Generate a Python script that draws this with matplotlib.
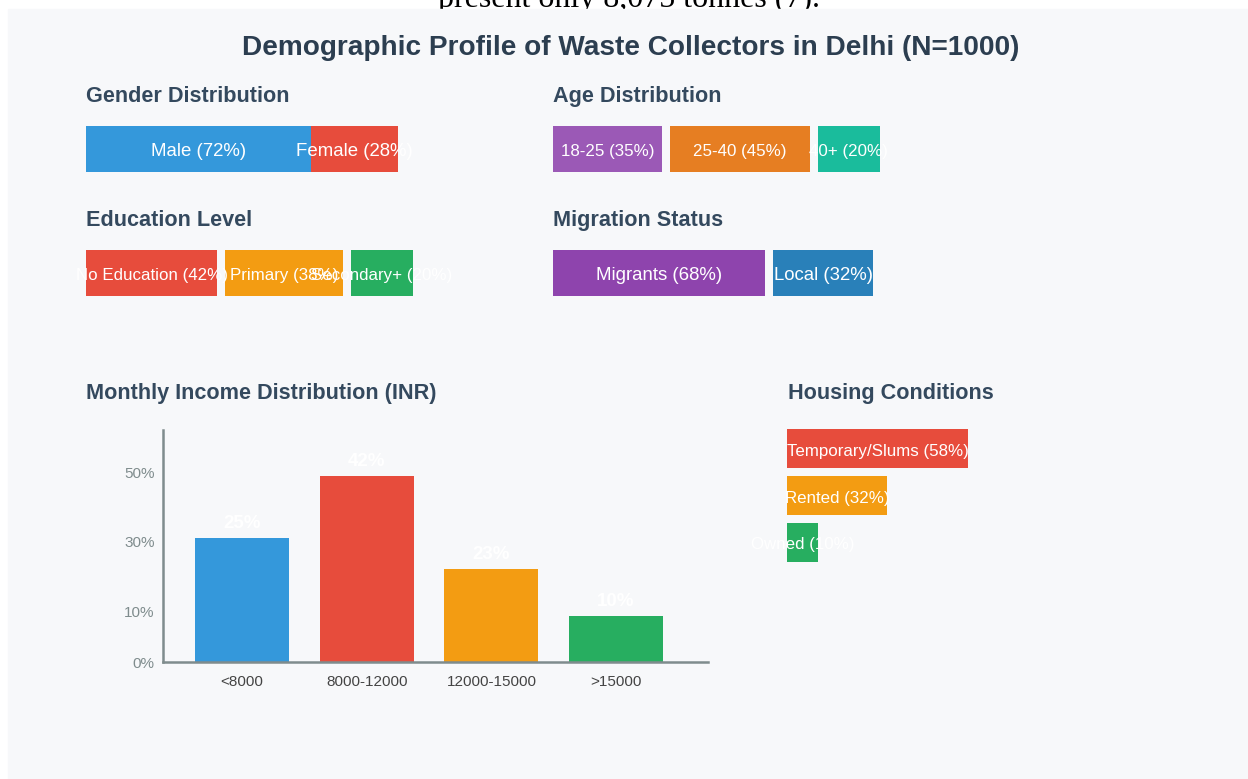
import matplotlib.pyplot as plt
from matplotlib.patches import Rectangle

plt.rcParams['font.family'] = ['Liberation Sans', 'DejaVu Sans']

# данные
gender_labels = ['Male', 'Female']
gender_vals = [72, 28]
gender_colors = ['#3498db', '#e74c3c']

age_labels = ['18-25', '25-40', '40+']
age_vals = [35, 45, 20]
age_colors = ['#9b59b6', '#e67e22', '#1abc9c']

edu_labels = ['No Education', 'Primary', 'Secondary+']
edu_vals = [42, 38, 20]
edu_colors = ['#e74c3c', '#f39c12', '#27ae60']

mig_labels = ['Migrants', 'Local']
mig_vals = [68, 32]
mig_colors = ['#8e44ad', '#2980b9']

income_cats = ['<8000', '8000-12000', '12000-15000', '>15000']
income_pct = [25, 42, 23, 10]           # подписи над столбцами
income_heights = [32.5, 48.7, 24.3, 12.0]  # высота столбцов по оси
income_colors = ['#3498db', '#e74c3c', '#f39c12', '#27ae60']
income_tick_pos = [0, 13.2, 31.5, 49.7]
income_tick_labels = ['0%', '10%', '30%', '50%']

housing_labels = ['Temporary/Slums', 'Rented', 'Owned']
housing_vals = [58, 32, 10]
housing_colors = ['#e74c3c', '#f39c12', '#27ae60']

W, H = 1248, 779
SCALE = 3.12  # пикселей на 1%
TITLE_C = '#34495e'

fig = plt.figure(figsize=(W / 100, H / 100), dpi=100)
ax = fig.add_axes([0, 0, 1, 1])
ax.set_xlim(0, W)
ax.set_ylim(H, 0)
ax.axis('off')

# обрезанный текст сверху и фон панели
ax.text(629, 7, 'present only 8,075 tonnes (7).', family='Liberation Serif',
        fontsize=23, color='black', ha='center', va='baseline', zorder=0)
ax.add_patch(Rectangle((8, 9), W - 8, H - 9, color='#f7f8fa', zorder=1))

ax.text(631, 48, 'Demographic Profile of Waste Collectors in Delhi (N=1000)',
        fontsize=20.2, fontweight='bold', color='#2c3e50', ha='center', va='center', zorder=3)


def seg_bar(x0, yc, h, vals, labels, colors, gap, fs):
    widths = [v * SCALE for v in vals]
    lefts = []
    x = x0
    for w in widths:
        lefts.append(x)
        x += w + gap
    ax.barh(yc, widths, left=lefts, height=h, color=colors, zorder=2)
    for l, w, lab, v in zip(lefts, widths, labels, vals):
        ax.text(l + w / 2, yc + 2.5, f'{lab} ({v}%)', color='white', fontsize=fs,
                ha='center', va='center', zorder=3)


def section(x, y, s):
    ax.text(x, y, s, fontsize=15.6, fontweight='bold', color=TITLE_C,
            ha='left', va='center', zorder=3)


section(86, 96, 'Gender Distribution')
seg_bar(86, 149, 46, gender_vals, gender_labels, gender_colors, 0, 13.4)

section(553, 96, 'Age Distribution')
seg_bar(553, 149, 46, age_vals, age_labels, age_colors, 7.5, 12.2)

section(86, 220, 'Education Level')
seg_bar(86, 273, 46, edu_vals, edu_labels, edu_colors, 7.5, 12.2)

section(553, 220, 'Migration Status')
seg_bar(553, 273, 46, mig_vals, mig_labels, mig_colors, 8, 13.4)

# жильё
section(788, 393, 'Housing Conditions')
h_y = [448.5, 495.5, 542.5]
ax.barh(h_y, [v * SCALE for v in housing_vals], left=787, height=38.5,
        color=housing_colors, zorder=2)
for y, lab, v in zip(h_y, housing_labels, housing_vals):
    ax.text(787 + v * SCALE / 2, y + 2.5, f'{lab} ({v}%)', color='white', fontsize=12.2,
            ha='center', va='center', zorder=3)

# доходы
section(86, 393, 'Monthly Income Distribution (INR)')
bx = fig.add_axes([163 / W, (H - 662) / H, 545 / W, 232 / H])
bx.set_facecolor('none')
xs = range(len(income_cats))
bx.bar(xs, income_heights, width=0.754, color=income_colors, zorder=2)
for i, (h, p) in enumerate(zip(income_heights, income_pct)):
    bx.text(i, h + 3.7, f'{p}%', color='white', fontsize=13.5, fontweight='bold',
            ha='center', va='center')
bx.set_xticks(list(xs))
bx.set_xticklabels(income_cats, fontsize=11, color='#444444')
bx.set_yticks(income_tick_pos)
bx.set_yticklabels(income_tick_labels, fontsize=11, color='#7f8c8d')
bx.set_xlim(-0.634, 3.737)
bx.set_ylim(0, 60.7)
bx.tick_params(length=0)
bx.tick_params(axis='x', pad=9)
bx.tick_params(axis='y', pad=6)
for s in ['top', 'right']:
    bx.spines[s].set_visible(False)
for s in ['left', 'bottom']:
    bx.spines[s].set_color('#7f8c8d')
    bx.spines[s].set_linewidth(1.8)

fig.savefig('out.png', dpi=100)
